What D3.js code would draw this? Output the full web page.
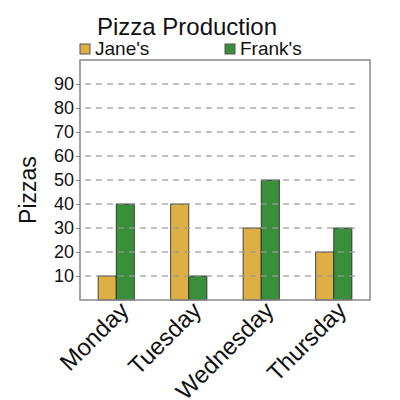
<!DOCTYPE html>
<html>
<head>
<meta charset="utf-8">
<script src="https://cdn.jsdelivr.net/npm/d3@7"></script>
<style>
  body { margin: 0; background: #fff; }
  text { font-family: "Liberation Sans", Arial, sans-serif; }
</style>
</head>
<body>
<div id="chart"></div>
<script>
var days = ["Monday", "Tuesday", "Wednesday", "Thursday"];
var series = ["Jane's", "Frank's"];
var janes = [10, 40, 30, 20];
var franks = [40, 10, 50, 30];
var yTicks = [10, 20, 30, 40, 50, 60, 70, 80, 90];

function draw() {
  var w = 400;
  var h = 400;
  var left = 80, right = 370, top = 60, bottom = 300;

  var svg = d3
    .select("#chart")
    .append("svg")
    .attr("width", w)
    .attr("height", h);

  var color = d3.scaleOrdinal().domain(series).range(["#ddaf45", "#3a8f3a"]);

  var x0 = d3.scaleBand().domain(days).range([left, right]);
  var x1 = d3
    .scaleBand()
    .domain(series)
    .range([x0.bandwidth() / 4, (x0.bandwidth() * 3) / 4]);
  var y = d3.scaleLinear().domain([0, 100]).range([bottom, top]);

  var rows = days.map((d, i) => ({ day: d, values: [janes[i], franks[i]] }));

  // Bars
  svg
    .selectAll(".grp")
    .data(rows)
    .enter()
    .append("g")
    .attr("class", "grp")
    .attr("transform", (d) => "translate(" + x0(d.day) + ",0)")
    .selectAll("rect")
    .data((d) => series.map((s, j) => ({ s: s, v: d.values[j] })))
    .enter()
    .append("rect")
    .attr("x", (d) => x1(d.s))
    .attr("y", (d) => y(d.v))
    .attr("width", x1.bandwidth())
    .attr("height", (d) => bottom - y(d.v))
    .attr("fill", (d) => color(d.s))
    .attr("stroke", "#222")
    .attr("stroke-opacity", 0.8)
    .attr("stroke-width", 1);

  // Grid lines (drawn over bars, translucent)
  svg
    .append("g")
    .selectAll("line")
    .data(yTicks)
    .enter()
    .append("line")
    .attr("x1", left + 5)
    .attr("x2", right - 10)
    .attr("y1", (d) => y(d))
    .attr("y2", (d) => y(d))
    .attr("stroke", "#999")
    .attr("stroke-opacity", 0.6)
    .attr("stroke-width", 2)
    .attr("stroke-dasharray", "6,5");

  // Frame
  svg
    .append("rect")
    .attr("x", left)
    .attr("y", top)
    .attr("width", right - left)
    .attr("height", bottom - top)
    .attr("fill", "none")
    .attr("stroke", "#888")
    .attr("stroke-width", 1.5);

  // Y axis
  var yAxis = d3.axisLeft(y).tickValues(yTicks).tickSize(4).tickPadding(2);
  var gy = svg
    .append("g")
    .attr("transform", "translate(" + left + ",0)")
    .call(yAxis);
  gy.select(".domain").remove();
  gy.selectAll(".tick line").attr("stroke", "#888");
  gy.selectAll("text")
    .attr("font-size", "18px")
    .attr("fill", "#111")
    .style("font-family", "Liberation Sans, Arial, sans-serif");

  // X axis labels
  var xAxis = d3.axisBottom(x0).tickSize(0).tickPadding(0);
  var gx = svg
    .append("g")
    .attr("transform", "translate(0," + bottom + ")")
    .call(xAxis);
  gx.select(".domain").remove();
  gx.selectAll("text")
    .attr("font-size", "24px")
    .attr("fill", "#111")
    .style("font-family", "Liberation Sans, Arial, sans-serif")
    .attr("text-anchor", "end")
    .attr("transform", "translate(2,0) rotate(-45)")
    .attr("dy", "0.7em")
    .attr("y", 0);

  // Y label
  svg
    .append("text")
    .attr("transform", "translate(36,190) rotate(-90)")
    .attr("text-anchor", "middle")
    .attr("font-size", "23px")
    .attr("fill", "#111")
    .text("Pizzas");

  // Title
  svg
    .append("text")
    .attr("x", 187)
    .attr("y", 35)
    .attr("text-anchor", "middle")
    .attr("font-size", "24px")
    .attr("fill", "#111")
    .text("Pizza Production");

  // Legend
  var legend = svg
    .selectAll(".legend")
    .data(series)
    .enter()
    .append("g")
    .attr("class", "legend")
    .attr("transform", (d, i) => "translate(" + (80 + i * 145) + ",43)");

  legend
    .append("rect")
    .attr("width", 10)
    .attr("height", 10)
    .attr("y", 1)
    .attr("fill", color)
    .attr("stroke", "#555")
    .attr("stroke-width", 1);

  legend
    .append("text")
    .attr("x", 15)
    .attr("y", 12)
    .attr("font-size", "19px")
    .attr("fill", "#111")
    .text((d) => d);
}

window.onload = draw;
</script>
</body>
</html>
